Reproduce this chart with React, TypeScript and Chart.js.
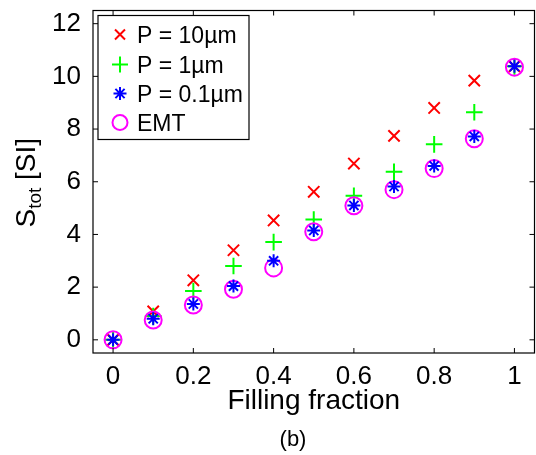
import { useEffect, useRef } from 'react';
import { Chart, registerables } from 'chart.js';
Chart.register(...registerables);

const fillingFraction = [0, 0.1, 0.2, 0.3, 0.4, 0.5, 0.6, 0.7, 0.8, 0.9, 1.0];
const sP10 = [0, 1.08, 2.26, 3.4, 4.53, 5.62, 6.69, 7.74, 8.8, 9.84, 10.38];
const sP1 = [0, 0.9, 1.85, 2.8, 3.71, 4.57, 5.47, 6.38, 7.42, 8.64, 10.38];
const sP01 = [0, 0.8, 1.36, 2.04, 3.0, 4.15, 5.1, 5.82, 6.6, 7.72, 10.38];
const sEMT = [0, 0.75, 1.32, 1.92, 2.73, 4.1, 5.09, 5.7, 6.5, 7.63, 10.35];
const xTicks = [0, 0.2, 0.4, 0.6, 0.8, 1];
const yTicks = [0, 2, 4, 6, 8, 10, 12];
const seriesLabels = ['P = 10\u00b5m', 'P = 1\u00b5m', 'P = 0.1\u00b5m', 'EMT'];
const seriesColors = ['#ff0000', '#00ff00', '#0000ff', '#ff00ff'];

const FONT = '"Liberation Sans", Arial, Helvetica, sans-serif';

const toPts = (ys: number[]) => fillingFraction.map((x, i) => ({ x, y: ys[i] }));

const decorPlugin = {
  id: 'decor',
  afterDraw(chart: any) {
    const { ctx, chartArea: a, scales } = chart;
    const xs = scales.x;
    const ys = scales.y;
    ctx.save();
    // frame
    ctx.strokeStyle = '#000';
    ctx.lineWidth = 1.2;
    ctx.strokeRect(a.left, a.top, a.right - a.left, a.bottom - a.top);
    // inside ticks
    const tl = 5;
    ctx.beginPath();
    xTicks.forEach((v) => {
      const px = xs.getPixelForValue(v);
      ctx.moveTo(px, a.bottom);
      ctx.lineTo(px, a.bottom - tl);
      ctx.moveTo(px, a.top);
      ctx.lineTo(px, a.top + tl);
    });
    yTicks.forEach((v) => {
      const py = ys.getPixelForValue(v);
      ctx.moveTo(a.left, py);
      ctx.lineTo(a.left + tl, py);
      ctx.moveTo(a.right, py);
      ctx.lineTo(a.right - tl, py);
    });
    ctx.lineWidth = 1;
    ctx.stroke();

    // legend
    const lx = a.left + 5;
    const ly = a.top + 5;
    const lw = 151;
    const lh = 124;
    ctx.fillStyle = '#fff';
    ctx.fillRect(lx, ly, lw, lh);
    ctx.strokeStyle = '#000';
    ctx.lineWidth = 1.2;
    ctx.strokeRect(lx, ly, lw, lh);
    const mx = lx + 22;
    const rowY = [ly + 19, ly + 49, ly + 78, ly + 107];
    seriesLabels.forEach((lab, i) => {
      const cy = rowY[i];
      ctx.strokeStyle = seriesColors[i];
      ctx.lineWidth = 2;
      ctx.beginPath();
      if (i === 0) {
        const r = 5;
        ctx.moveTo(mx - r, cy - r); ctx.lineTo(mx + r, cy + r);
        ctx.moveTo(mx - r, cy + r); ctx.lineTo(mx + r, cy - r);
      } else if (i === 1) {
        const r = 8;
        ctx.moveTo(mx - r, cy); ctx.lineTo(mx + r, cy);
        ctx.moveTo(mx, cy - r); ctx.lineTo(mx, cy + r);
      } else if (i === 2) {
        const r = 6.5;
        const d = r * Math.SQRT1_2;
        ctx.moveTo(mx - r, cy); ctx.lineTo(mx + r, cy);
        ctx.moveTo(mx, cy - r); ctx.lineTo(mx, cy + r);
        ctx.moveTo(mx - d, cy - d); ctx.lineTo(mx + d, cy + d);
        ctx.moveTo(mx - d, cy + d); ctx.lineTo(mx + d, cy - d);
      } else {
        ctx.arc(mx, cy, 7.5, 0, Math.PI * 2);
      }
      ctx.stroke();
      ctx.fillStyle = '#000';
      ctx.font = `23px ${FONT}`;
      ctx.textAlign = 'left';
      ctx.textBaseline = 'alphabetic';
      ctx.fillText(lab, lx + 39, cy + 8);
    });

    // x title
    ctx.fillStyle = '#000';
    ctx.font = `28px ${FONT}`;
    ctx.textAlign = 'center';
    ctx.textBaseline = 'alphabetic';
    ctx.fillText('Filling fraction', (a.left + a.right) / 2, a.bottom + 56);
    ctx.font = `22px ${FONT}`;
    ctx.fillText('(b)', 293, a.bottom + 93);

    // y title with subscript
    ctx.save();
    ctx.font = `28px ${FONT}`;
    const wS = ctx.measureText('S').width;
    const wSI = ctx.measureText(' [SI]').width;
    ctx.font = `19px ${FONT}`;
    const wSub = ctx.measureText('tot').width;
    const total = wS + wSub + wSI;
    const cyT = (a.top + a.bottom) / 2 + 1;
    ctx.translate(35, cyT + total / 2);
    ctx.rotate(-Math.PI / 2);
    ctx.textAlign = 'left';
    ctx.font = `28px ${FONT}`;
    ctx.fillText('S', 0, 0);
    ctx.font = `19px ${FONT}`;
    ctx.fillText('tot', wS, 6);
    ctx.font = `28px ${FONT}`;
    ctx.fillText(' [SI]', wS + wSub, 0);
    ctx.restore();

    ctx.restore();
  },
};

export default function App() {
  const ref = useRef<HTMLCanvasElement | null>(null);
  useEffect(() => {
    if (!ref.current) return;
    const chart = new Chart(ref.current, {
      type: 'scatter',
      data: {
        datasets: [
          {
            label: seriesLabels[0],
            data: toPts(sP10),
            pointStyle: 'crossRot',
            pointRadius: 8,
            pointBorderWidth: 2,
            pointBorderColor: seriesColors[0],
            pointBackgroundColor: 'transparent',
            showLine: false,
            order: 3,
          },
          {
            label: seriesLabels[1],
            data: toPts(sP1),
            pointStyle: 'cross',
            pointRadius: 8.3,
            pointBorderWidth: 2,
            pointBorderColor: seriesColors[1],
            pointBackgroundColor: 'transparent',
            showLine: false,
            order: 2,
          },
          {
            label: seriesLabels[2],
            data: toPts(sP01),
            pointStyle: 'star',
            pointRadius: 6.5,
            pointBorderWidth: 2,
            pointBorderColor: seriesColors[2],
            pointBackgroundColor: 'transparent',
            showLine: false,
            order: 0,
          },
          {
            label: seriesLabels[3],
            data: toPts(sEMT),
            pointStyle: 'circle',
            pointRadius: 8.5,
            pointBorderWidth: 2,
            pointBorderColor: seriesColors[3],
            pointBackgroundColor: 'transparent',
            showLine: false,
            order: 1,
          },
        ],
      },
      options: {
        animation: false,
        responsive: false,
        devicePixelRatio: 1,
        events: [],
        layout: { padding: { left: 0, top: 8, right: 6.5, bottom: 0 } },
        plugins: { legend: { display: false }, tooltip: { enabled: false } },
        scales: {
          x: {
            type: 'linear',
            min: -0.05,
            max: 1.05,
            grid: { display: false },
            border: { display: false },
            afterBuildTicks: (s: any) => {
              s.ticks = xTicks.map((v) => ({ value: v }));
            },
            afterFit: (s: any) => {
              s.height = 102;
              s.paddingLeft = 0;
              s.paddingRight = 0;
            },
            ticks: {
              autoSkip: false,
              maxRotation: 0,
              padding: 0,
              color: '#000',
              font: { family: FONT, size: 26 },
              callback: (v: any) => String(v),
            },
          },
          y: {
            type: 'linear',
            min: -0.5,
            max: 12.5,
            grid: { display: false },
            border: { display: false },
            afterBuildTicks: (s: any) => {
              s.ticks = yTicks.map((v) => ({ value: v }));
            },
            afterFit: (s: any) => {
              s.width = 93;
              s.paddingTop = 0;
              s.paddingBottom = 0;
            },
            ticks: {
              autoSkip: false,
              padding: 4,
              color: '#000',
              font: { family: FONT, size: 26 },
              callback: (v: any) => String(v),
            },
          },
        },
      },
      plugins: [decorPlugin],
    });
    return () => chart.destroy();
  }, []);
  return (
    <div style={{ position: 'absolute', left: 0, top: 0, width: 536, height: 455, overflow: 'hidden', background: '#fff' }}>
      <canvas ref={ref} width={545} height={455} style={{ display: 'block', width: 545, height: 455 }} />
    </div>
  );
}
